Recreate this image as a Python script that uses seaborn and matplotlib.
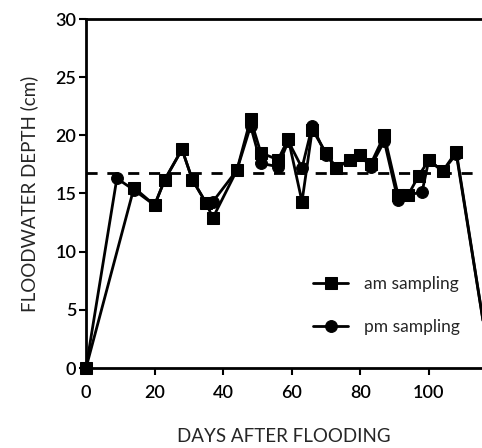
import matplotlib
matplotlib.use("Agg")
import matplotlib.pyplot as plt
import seaborn as sns
import pandas as pd

am_days = [0, 14, 20, 23, 28, 31, 35, 37, 44, 48, 51, 56, 59, 63, 66, 70, 73, 77, 80, 83, 87, 91, 94, 97, 100, 104, 108, 118]
am_vals = [0, 15.5, 14.0, 16.2, 18.8, 16.2, 14.2, 12.9, 17.0, 21.4, 18.5, 17.9, 19.7, 14.3, 20.5, 18.5, 17.2, 17.9, 18.3, 17.5, 20.0, 14.9, 14.9, 16.5, 17.9, 16.9, 18.6, 0]

pm_days = [0, 9, 14, 20, 23, 28, 31, 35, 37, 44, 48, 51, 56, 59, 63, 66, 70, 73, 77, 80, 83, 87, 91, 94, 98, 100, 104, 108, 118]
pm_vals = [0, 16.3, 15.3, 14.0, 16.2, 18.8, 16.2, 14.2, 14.3, 17.0, 20.8, 17.6, 17.3, 19.5, 17.2, 20.8, 18.3, 17.2, 17.9, 18.3, 17.3, 19.5, 14.4, 14.9, 15.1, 17.9, 16.9, 18.4, 0]

mean_depth = 16.8
x_ticks = [0, 20, 40, 60, 80, 100]
y_ticks = [0, 5, 10, 15, 20, 25, 30]

sns.set_style("white")
plt.rcParams['font.family'] = ['Lato', 'DejaVu Sans']

am_df = pd.DataFrame({"day": am_days, "depth": am_vals})
pm_df = pd.DataFrame({"day": pm_days, "depth": pm_vals})

fig = plt.figure(figsize=(4.82, 4.48), dpi=100)
ax = fig.add_axes([86/482, (448-368)/448, (482-86)/482, (368-19)/448])

sns.lineplot(data=am_df, x="day", y="depth", ax=ax, color="black", lw=2,
             marker="s", markersize=8.5, markeredgecolor="black", label="am sampling",
             sort=False, clip_on=False)
sns.lineplot(data=pm_df, x="day", y="depth", ax=ax, color="black", lw=2,
             marker="o", markersize=8.5, markeredgecolor="black", label="pm sampling",
             sort=False, clip_on=False)
ax.axhline(mean_depth, color="black", lw=2, ls=(0, (4, 3.5)), zorder=1)

ax.set_xlim(0, 115.5)
ax.set_ylim(0, 30)
ax.set_xticks(x_ticks)
ax.set_yticks(y_ticks)
ax.tick_params(axis="both", direction="out", length=5, width=1.5, labelsize=13,
               left=True, bottom=True, colors="black", pad=2)
ax.tick_params(axis="x", pad=7)
for lab in ax.get_xticklabels() + ax.get_yticklabels():
    lab.set_fontweight("semibold")
for s in ["left", "bottom", "top"]:
    ax.spines[s].set_visible(True)
    ax.spines[s].set_color("black")
    ax.spines[s].set_linewidth(2)
ax.spines["right"].set_visible(False)

ax.set_xlabel("DAYS AFTER FLOODING", fontsize=13.5, labelpad=20)
ax.set_ylabel("FLOODWATER DEPTH (cm)", fontsize=13.5, labelpad=12)

leg = ax.legend(loc="upper left", bbox_to_anchor=(0.535, 0.307), frameon=False,
                fontsize=12.5, handlelength=2.0, labelspacing=1.55, handletextpad=0.9)

fig.savefig("out.png", dpi=100)
